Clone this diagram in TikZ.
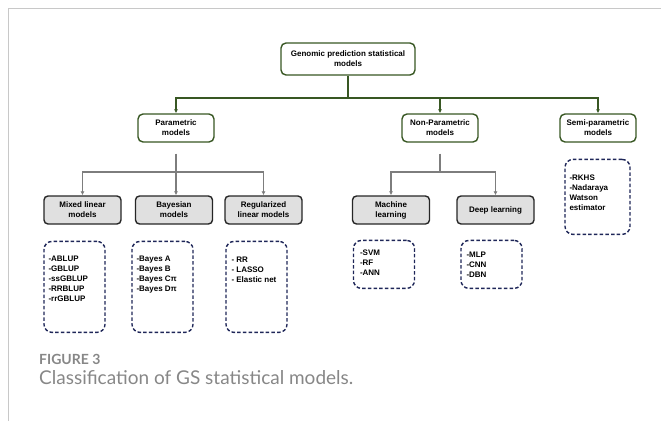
\documentclass[tikz,border=0pt]{standalone}
\usepackage{fontspec}
\setmainfont{Liberation Sans}
\newfontfamily\capfont{Lato}
\usetikzlibrary{arrows.meta,positioning,calc}
\definecolor{treegreen}{RGB}{56,87,35}
\definecolor{listblue}{RGB}{30,38,88}
\definecolor{linkgray}{RGB}{125,125,125}
\definecolor{capgray}{RGB}{135,135,135}
\definecolor{framegray}{RGB}{200,200,200}
\def \listY {16pt}
\tikzset{
 	rootblock/.style= {draw=treegreen, line width=1.4pt, rectangle, rounded corners=5pt, align=center, minimum width=134pt, minimum height=32pt, fill=white, font=\fontsize{8pt}{10pt}\selectfont\bfseries},
 	classblock/.style= {rootblock, minimum width=76pt, minimum height=28pt},
 	familyblock/.style= {draw=black!85, line width=1.4pt, rectangle, rounded corners=4pt, align=center, minimum width=77pt, minimum height=28pt, fill=black!12, font=\fontsize{8pt}{10pt}\selectfont\bfseries},
 	listblock/.style= {draw=listblue, line width=1.4pt, dash pattern=on 3.5pt off 2.2pt, rounded corners=8pt, minimum width=61pt, inner sep=0pt},
 	listtext/.style= {align=left, inner sep=0pt, font=\fontsize{8pt}{10pt}\selectfont\bfseries},
 	greenlink/.style= {draw=treegreen, line width=1.2pt, -{Latex[length=4pt,width=4pt]}},
 	graylink/.style= {draw=linkgray, line width=1.2pt, -{Latex[length=4pt,width=4pt]}}
 }

\begin{document}
\begin{tikzpicture}[x=1pt,y=-1pt]
\useasboundingbox (0,0) rectangle (661,421);
\draw [framegray, line width=1pt] (8,421) -- (8,8) -- (661,8);

%%%%%%%%%%%%%%%%%%%%% Nodes %%%%%%%%%%%%%%%%%%%%%
	\node [rootblock] (root) at (348,59) {Genomic prediction statistical\\models};
    \node [classblock] (param) at (176,128) {Parametric\\models};
    \node [classblock] (nonparam) at (440,128) {Non-Parametric\\models};
    \node [classblock] (semiparam) at (598,128) {Semi-parametric\\models};

    \node [familyblock] (mixed) at (82.5,210) {Mixed linear\\models};
    \node [familyblock] (bayes) at (174,210) {Bayesian\\models};
    \node [familyblock] (reg) at (263.5,210) {Regularized\\linear models};
    \node [familyblock] (ml) at (391,210) {Machine\\learning};
    \node [familyblock] (dl) at (495.5,210) {Deep learning};

%%%%%%%%%%%%%%%%%%%%% Lists %%%%%%%%%%%%%%%%%%%%%
    \node [listblock, minimum height=91pt, below right=\listY and 0pt of mixed.south west] (mixedlist) {};
    \node [listblock, minimum height=91pt, below right=\listY and -3.5pt of bayes.south west] (bayeslist) {};
    \node [listblock, minimum height=91pt, below right=\listY and 1pt of reg.south west] (reglist) {};
    \node [listblock, minimum height=48pt, below right=15pt and 1pt of ml.south west] (mllist) {};
    \node [listblock, minimum height=48pt, below right=15pt and 4pt of dl.south west] (dllist) {};
    \node [listblock, minimum height=75pt, minimum width=65pt, below right=\listY and 5pt of semiparam.south west] (semilist) {};

    \node [listtext, below right=15pt and 5pt of mixedlist.north west] (mixeditems) {-ABLUP\\-GBLUP\\-ssGBLUP\\-RRBLUP\\-rrGBLUP};
    \node [listtext, below right=15pt and 5pt of bayeslist.north west] (bayesitems) {-Bayes A\\-Bayes B\\-Bayes Cπ\\-Bayes Dπ};
    \node [listtext, below right=16pt and 6pt of reglist.north west] (regitems) {- RR\\- LASSO\\- Elastic net};
    \node [listtext, below right=10pt and 7pt of mllist.north west] (mlitems) {-SVM\\-RF\\-ANN};
    \node [listtext, below right=12pt and 6pt of dllist.north west] (dlitems) {-MLP\\-CNN\\-DBN};
    \node [listtext, below right=16pt and 5pt of semilist.north west] (semiitems) {-RKHS\\-Nadaraya\\Watson\\estimator};

%%%%%%%%%%%%%%%%%%%%% Caption %%%%%%%%%%%%%%%%%%%%%
    \node [anchor=base west, inner sep=0pt, text=capgray, font=\capfont\fontsize{14pt}{14pt}\selectfont\bfseries] (figlabel) at (39,364) {FIGURE 3};
    \node [anchor=base west, inner sep=0pt, text=capgray, font=\capfont\fontsize{19pt}{19pt}\selectfont] (figcaption) at (39,384) {Classification of GS statistical models.};

%%%%%%%%%%%%%%%%%%%%% Links %%%%%%%%%%%%%%%%%%%%%
    \coordinate (gsplit) at (root.south |- 0,98);
    \draw [greenlink, -] (root) -- (gsplit);
    \draw [greenlink] (gsplit) -| (param.north);
    \draw [greenlink] (gsplit) -| (nonparam.north);
    \draw [greenlink] (gsplit) -| (semiparam.north);

    \coordinate (pdrop) at ($(param.south)+(0,11)$);
    \coordinate (psplit) at (pdrop |- 0,172);
    \draw [graylink, -] (pdrop) -- (psplit);
    \draw [graylink] (psplit) -| (mixed.north);
    \draw [graylink] (psplit) -- (psplit |- bayes.north);
    \draw [graylink] (psplit) -| (reg.north);

    \coordinate (ndrop) at ($(nonparam.south)+(0,11)$);
    \coordinate (nsplit) at (ndrop |- 0,172);
    \draw [graylink, -] (ndrop) -- (nsplit);
    \draw [graylink] (nsplit) -| (ml.north);
    \draw [graylink] (nsplit) -| (dl.north);

\end{tikzpicture}
\end{document}
